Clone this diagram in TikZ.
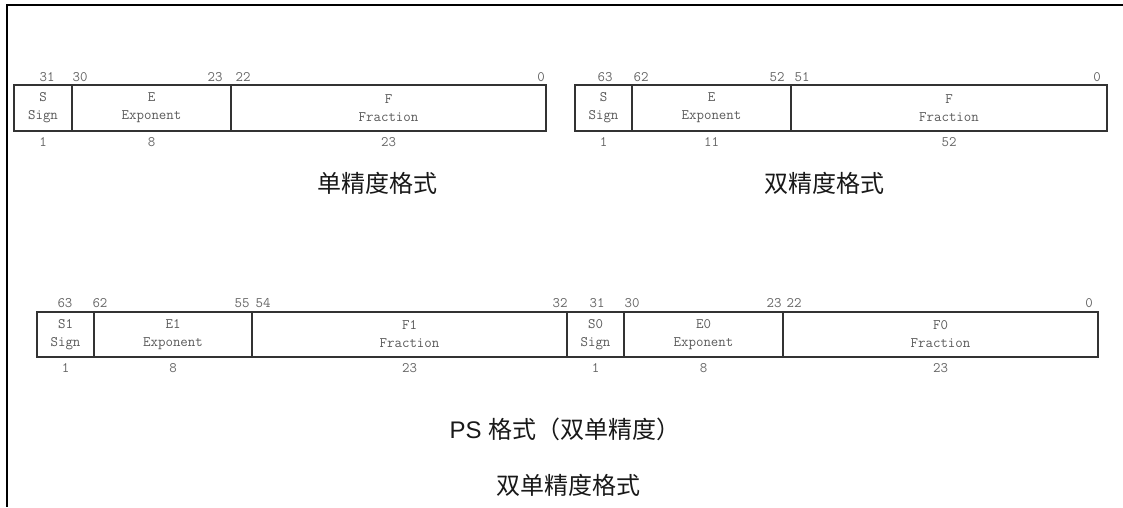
\documentclass[tikz,border=0pt]{standalone}
\usepackage{fontspec}
\setmainfont{Liberation Serif}
\newfontfamily\cjkf{Noto Sans CJK SC}
\newfontfamily\latsans{Liberation Sans}
\begin{document}
\begin{tikzpicture}[x=1pt,y=-1pt,
  field/.style={draw=black!80, line width=1.4pt, rectangle, inner sep=0pt,
    minimum height=46pt, align=center, text=black!65,
    font=\ttfamily\fontsize{14.5}{18}\selectfont},
  pfield/.style={field, minimum height=45pt},
  bitlbl/.style={inner sep=0pt, text=black!60, font=\ttfamily\fontsize{14.5}{16}\selectfont},
  caption/.style={inner sep=0pt, text=black!90, font=\cjkf\fontsize{24}{28}\selectfont}]
\useasboundingbox (0,0) rectangle (1123,507);
% frame
\draw[line width=2pt] (1123,5) -- (7,5) -- (7,507);

% single precision
\node[field, minimum width=58pt]  (ss) at (43,108)    {S\\Sign};
\node[field, minimum width=159pt] (se) at (151.5,108) {E\\Exponent};
\node[field, minimum width=315pt] (sf) at (388.5,108) {F\\Fraction};
\node[bitlbl] (ss31) at (47,77)  {31};
\node[bitlbl] (se30) at (80,77)  {30};
\node[bitlbl] (se23) at (215,77) {23};
\node[bitlbl] (sf22) at (243,77) {22};
\node[bitlbl] (sf0)  at (541,77) {0};
\node[bitlbl] (ssn) at (43,142)    {1};
\node[bitlbl] (sen) at (151.5,142) {8};
\node[bitlbl] (sfn) at (388.5,142) {23};
\node[caption] (cap1) at (377,183) {单精度格式};

% double precision
\node[field, minimum width=57pt]  (ds) at (603.5,108) {S\\Sign};
\node[field, minimum width=159pt] (de) at (711.5,108) {E\\Exponent};
\node[field, minimum width=316pt] (df) at (949,108)   {F\\Fraction};
\node[bitlbl] (ds63) at (605,77)  {63};
\node[bitlbl] (de62) at (641,77)  {62};
\node[bitlbl] (de52) at (777,77)  {52};
\node[bitlbl] (df51) at (802,77)  {51};
\node[bitlbl] (df0)  at (1097,77) {0};
\node[bitlbl] (dsn) at (603.5,142) {1};
\node[bitlbl] (den) at (711.5,142) {11};
\node[bitlbl] (dfn) at (949,142)   {52};
\node[caption] (cap2) at (824,183) {双精度格式};

% paired single
\node[pfield, minimum width=57pt]  (p1s) at (65.5,334.5)  {S1\\Sign};
\node[pfield, minimum width=158pt] (p1e) at (173,334.5)   {E1\\Exponent};
\node[pfield, minimum width=315pt] (p1f) at (409.5,334.5) {F1\\Fraction};
\node[pfield, minimum width=57pt]  (p0s) at (595.5,334.5) {S0\\Sign};
\node[pfield, minimum width=159pt] (p0e) at (703.5,334.5) {E0\\Exponent};
\node[pfield, minimum width=315pt] (p0f) at (940.5,334.5) {F0\\Fraction};
\node[bitlbl] (p63) at (65,303)   {63};
\node[bitlbl] (p62) at (100,303)  {62};
\node[bitlbl] (p55) at (242,303)  {55};
\node[bitlbl] (p54) at (263,303)  {54};
\node[bitlbl] (p32) at (560,303)  {32};
\node[bitlbl] (p31) at (597,303)  {31};
\node[bitlbl] (p30) at (632,303)  {30};
\node[bitlbl] (p23) at (774,303)  {23};
\node[bitlbl] (p22) at (794,303)  {22};
\node[bitlbl] (p0)  at (1089,303) {0};
\node[bitlbl] (p1sn) at (65.5,368)  {1};
\node[bitlbl] (p1en) at (173,368)   {8};
\node[bitlbl] (p1fn) at (409.5,368) {23};
\node[bitlbl] (p0sn) at (595.5,368) {1};
\node[bitlbl] (p0en) at (703.5,368) {8};
\node[bitlbl] (p0fn) at (940.5,368) {23};
\node[caption] (cap3) at (565,429) {{\latsans PS }格式（双单精度）};
\node[caption] (cap4) at (568,485) {双单精度格式};
\end{tikzpicture}
\end{document}
